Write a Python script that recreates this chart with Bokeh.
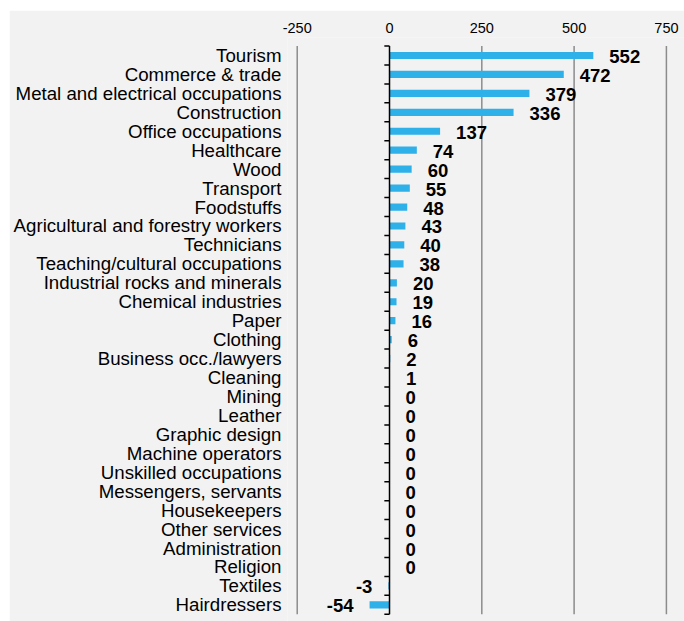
from bokeh.plotting import figure
from bokeh.models import Range1d, FixedTicker, ColumnDataSource
from bokeh.embed import file_html
from bokeh.resources import INLINE
from bokeh.core.properties import value

categories = ["Tourism", "Commerce & trade", "Metal and electrical occupations", "Construction",
              "Office occupations", "Healthcare", "Wood", "Transport", "Foodstuffs",
              "Agricultural and forestry workers", "Technicians", "Teaching/cultural occupations",
              "Industrial rocks and minerals", "Chemical industries", "Paper", "Clothing",
              "Business occ./lawyers", "Cleaning", "Mining", "Leather", "Graphic design",
              "Machine operators", "Unskilled occupations", "Messengers, servants", "Housekeepers",
              "Other services", "Administration", "Religion", "Textiles", "Hairdressers"]
values = [552, 472, 379, 336, 137, 74, 60, 55, 48, 43, 40, 38, 20, 19, 16, 6, 2, 1,
          0, 0, 0, 0, 0, 0, 0, 0, 0, 0, -3, -54]
x_ticks = [-250, 0, 250, 500, 750]

n = len(categories)
pos = [n - 1 - i for i in range(n)]

FONT = "Liberation Sans"
BG = "#f2f2f2"

p = figure(width=675, height=611, output_backend="svg", toolbar_location=None,
           x_range=Range1d(-276.3, 799.0), y_range=Range1d(-0.88, n - 0.05),
           x_axis_location="above",
           min_border_left=278, min_border_right=0, min_border_top=27, min_border_bottom=0)
p.margin = (10, 0, 0, 9)
p.background_fill_color = BG
p.border_fill_color = BG
p.outline_line_color = None
p.xgrid.visible = False
p.ygrid.visible = False

xa = p.xaxis[0]
xa.ticker = FixedTicker(ticks=x_ticks)
xa.major_label_overrides = {t: str(t) for t in x_ticks}
xa.axis_line_color = None
xa.major_tick_line_color = None
xa.minor_tick_line_color = None
xa.major_tick_out = 0
xa.major_label_standoff = 5
xa.major_label_text_font = FONT
xa.major_label_text_font_size = "14.5px"
xa.major_label_text_color = "#000000"

ya = p.yaxis[0]
ya.ticker = FixedTicker(ticks=pos)
ya.major_label_overrides = {pos[i]: categories[i] for i in range(n)}
ya.axis_line_color = None
ya.major_tick_line_color = None
ya.minor_tick_line_color = None
ya.major_tick_out = 0
ya.major_label_standoff = 6
ya.major_label_text_font = FONT
ya.major_label_text_font_size = "18.7px"
ya.major_label_text_color = "#000000"

# vertical gridlines
grid_x = [t for t in x_ticks if t != 0]
p.segment(x0=grid_x, y0=[-0.5] * len(grid_x), x1=grid_x, y1=[n - 0.5] * len(grid_x),
          line_color="#8c8c8c", line_width=1.5)

# bars
p.hbar(y=pos, left=0, right=values, height=0.38, fill_color="#2EB0E8", line_color=None)

# zero axis line with category ticks
p.segment(x0=[0], y0=[-0.5], x1=[0], y1=[n - 0.5], line_color="black", line_width=1.5)
bounds = [k - 0.5 for k in range(n + 1)]
p.segment(x0=[-14] * len(bounds), y0=bounds, x1=[0] * len(bounds), y1=bounds,
          line_color="black", line_width=1.5)

# value labels
src = ColumnDataSource(dict(
    x=values, y=pos, text=[str(v) for v in values],
    align=["right" if v < 0 else "left" for v in values],
    xoff=[-16 if v < 0 else 16 for v in values],
))
p.text(x="x", y="y", text="text", source=src, text_align="align", x_offset="xoff",
       y_offset=1, text_baseline="middle", text_font=value(FONT), text_font_style="bold",
       text_font_size="18.5px", text_color="#000000")

open("out.html", "w").write(file_html(p, INLINE))
